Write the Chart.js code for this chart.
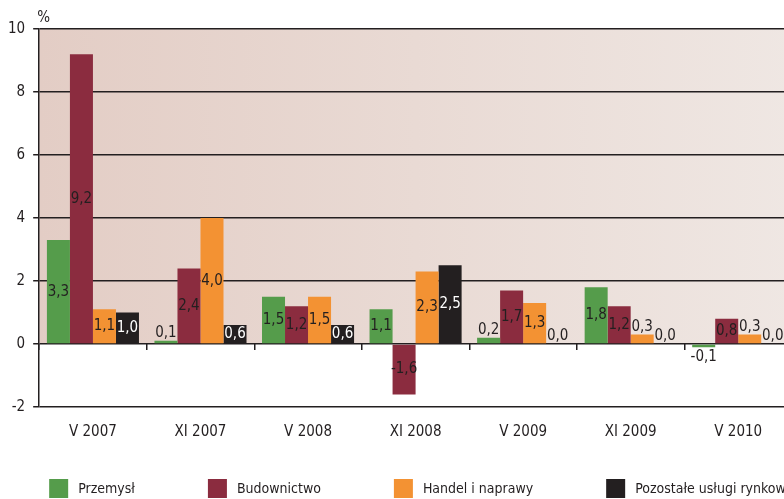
<!DOCTYPE html>
<html>
<head>
<meta charset="utf-8">
<script src="https://cdn.jsdelivr.net/npm/chart.js@4.4.0/dist/chart.umd.min.js"></script>
<style>
  html, body { margin: 0; padding: 0; background: #fff; overflow: hidden; }
  #wrap { width: 800px; height: 499px; position: relative; }
</style>
</head>
<body>
<div id="wrap"><canvas id="myChart"></canvas></div>
<script>
const periods = ['V 2007', 'XI 2007', 'V 2008', 'XI 2008', 'V 2009', 'XI 2009', 'V 2010'];
const przemysl = [3.3, 0.1, 1.5, 1.1, 0.2, 1.8, -0.1];
const budownictwo = [9.2, 2.4, 1.2, -1.6, 1.7, 1.2, 0.8];
const handel = [1.1, 4.0, 1.5, 2.3, 1.3, 0.3, 0.3];
const pozostale = [1.0, 0.6, 0.6, 2.5, 0.0, 0.0, 0.0];
const yTicks = [-2, 0, 2, 4, 6, 8, 10];

const FONT = "'DejaVu Sans Condensed', Lato, sans-serif";
const INK = '#231f20';

// shaded plot area, only between 0 and the top tick
const plotBackground = {
  id: 'plotBackground',
  beforeDraw(chart) {
    const {ctx, chartArea, scales} = chart;
    const top = scales.y.getPixelForValue(yTicks[yTicks.length - 1]);
    const zero = scales.y.getPixelForValue(0);
    const g = ctx.createLinearGradient(chartArea.left, 0, chartArea.right, 0);
    g.addColorStop(0, '#e3cdc5');
    g.addColorStop(1, '#efe7e3');
    ctx.save();
    ctx.fillStyle = g;
    ctx.fillRect(chartArea.left, top, chartArea.right - chartArea.left, zero - top);
    ctx.restore();
  }
};

// value labels, comma decimal
const valueLabels = {
  id: 'valueLabels',
  afterDatasetsDraw(chart) {
    const {ctx} = chart;
    ctx.save();
    ctx.font = '15px ' + FONT;
    ctx.textAlign = 'center';
    chart.data.datasets.forEach((ds, di) => {
      const meta = chart.getDatasetMeta(di);
      meta.data.forEach((bar, i) => {
        const v = ds.data[i];
        const txt = v.toFixed(1).replace('.', ',');
        const h = Math.abs(bar.base - bar.y);
        if (h < 10) {
          ctx.fillStyle = INK;
          if (v < 0) {
            ctx.textBaseline = 'top';
            ctx.fillText(txt, bar.x, bar.y + 2);
          } else {
            ctx.textBaseline = 'bottom';
            ctx.fillText(txt, bar.x, bar.y);
          }
        } else {
          ctx.fillStyle = ds.labelColor;
          ctx.textBaseline = 'middle';
          ctx.fillText(txt, bar.x, (bar.y + bar.base) / 2);
        }
      });
    });
    ctx.restore();
  }
};

const percentSign = {
  id: 'percentSign',
  afterDraw(chart) {
    const {ctx, chartArea} = chart;
    ctx.save();
    ctx.font = '15px ' + FONT;
    ctx.fillStyle = INK;
    ctx.textBaseline = 'middle';
    ctx.fillText('%', chartArea.left - 2, chartArea.top - 11);
    ctx.restore();
  }
};

// legend row along the bottom
const legendRow = {
  id: 'legendRow',
  afterDraw(chart) {
    const {ctx, chartArea} = chart;
    const box = 19, yc = chart.height - 10.5;
    let x = chartArea.left + 10;
    ctx.save();
    ctx.font = '14px ' + FONT;
    ctx.textBaseline = 'middle';
    chart.data.datasets.forEach(ds => {
      ctx.fillStyle = ds.backgroundColor;
      ctx.fillRect(x, yc - box / 2, box, box);
      ctx.fillStyle = INK;
      ctx.fillText(ds.label, x + box + 10, yc + 1);
      x += box + 10 + ctx.measureText(ds.label).width + 73;
    });
    ctx.restore();
  }
};

const data = {
  labels: periods,
  datasets: [
    {label: 'Przemysł', data: przemysl, backgroundColor: '#559c4b', labelColor: INK},
    {label: 'Budownictwo', data: budownictwo, backgroundColor: '#8b2c3f', labelColor: INK},
    {label: 'Handel i naprawy', data: handel, backgroundColor: '#f39233', labelColor: INK},
    {label: 'Pozostałe usługi rynkowe', data: pozostale, backgroundColor: '#231f20', labelColor: '#ffffff'}
  ]
};

const config = {
  type: 'bar',
  data: data,
  options: {
    responsive: true,
    maintainAspectRatio: false,
    animation: false,
    categoryPercentage: 0.856,
    barPercentage: 1,
    layout: {padding: {left: 0, right: 8, top: 29, bottom: 42}},
    plugins: {
      legend: {display: false},
      tooltip: {enabled: false}
    },
    scales: {
      x: {
        position: 'bottom',
        grid: {display: false, drawTicks: false},
        border: {display: false},
        ticks: {font: {family: FONT, size: 15}, color: INK, padding: 16, maxRotation: 0}
      },
      x2: {
        type: 'category',
        position: {y: 0},
        grid: {offset: true, drawOnChartArea: false, drawTicks: true, tickLength: 6, color: INK, lineWidth: 1.5},
        border: {display: false},
        ticks: {display: false}
      },
      y: {
        min: yTicks[0],
        max: yTicks[yTicks.length - 1],
        afterBuildTicks: scale => { scale.ticks = yTicks.map(v => ({value: v})); },
        grid: {color: INK, lineWidth: 1.5, tickLength: 6},
        border: {display: true, color: INK, width: 1.5},
        ticks: {font: {family: FONT, size: 15}, color: INK, padding: 8}
      }
    }
  },
  plugins: [plotBackground, valueLabels, percentSign, legendRow]
};

const myChart = new Chart(document.getElementById('myChart'), config);
</script>
</body>
</html>
